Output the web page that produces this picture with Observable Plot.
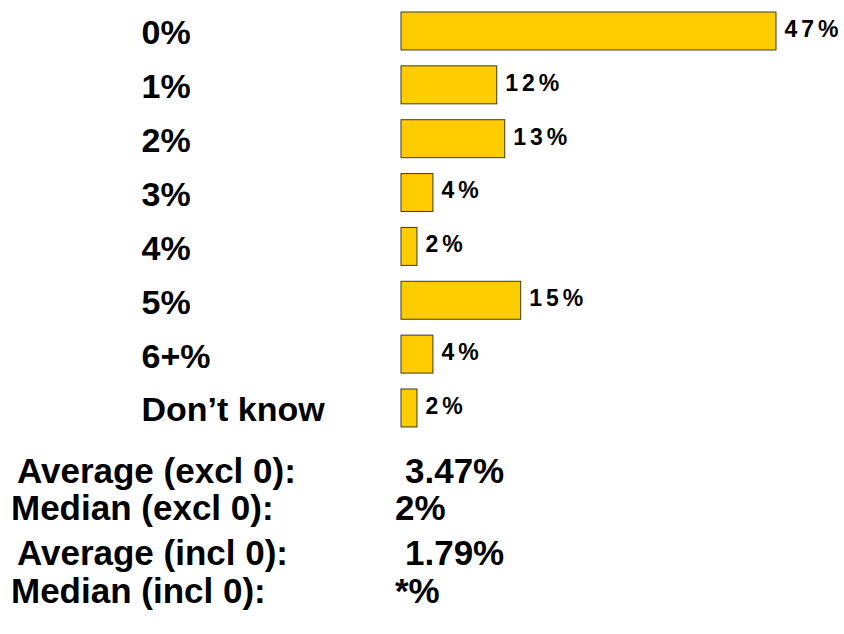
<!DOCTYPE html>
<html>
<head>
<meta charset="utf-8">
<script src="https://cdn.jsdelivr.net/npm/d3@7"></script>
<script src="https://cdn.jsdelivr.net/npm/@observablehq/plot@0.6"></script>
<style>
  html, body { margin: 0; padding: 0; background: #fff; }
  #wrap { position: relative; width: 844px; height: 634px; font-family: "Liberation Sans", Arial, sans-serif; }
  #chart { position: absolute; left: 0; top: 0; }
  #chart g[aria-label="text"] { font-size: 23px; font-weight: bold; }
  #chart g[aria-label="text"] text { letter-spacing: 4px; }
  #chart g[aria-label="y-axis tick label"] { font-size: 34px; font-weight: bold; }
  .stat { position: absolute; font-size: 35px; font-weight: bold; line-height: 35px; white-space: nowrap; color: #000; }
</style>
</head>
<body>
<div id="wrap"><div id="chart"></div></div>
<script>
const categories = ["0%", "1%", "2%", "3%", "4%", "5%", "6+%", "Don’t know"];
const values = [47, 12, 13, 4, 2, 15, 4, 2];
const statLabels = ["Average (excl 0):", "Median (excl 0):", "Average (incl 0):", "Median (incl 0):"];
const statValues = ["3.47%", "2%", "1.79%", "*%"];

const data = categories.map((c, i) => ({cat: c, value: values[i]}));

const plot = Plot.plot({
  width: 844,
  height: 440,
  marginLeft: 401,
  marginRight: 68,
  marginTop: 0,
  marginBottom: 0,
  style: {fontFamily: "'Liberation Sans', Arial, sans-serif", background: "transparent"},
  x: {domain: [0, 47], axis: null},
  y: {domain: categories, range: [4.06, 434.9], paddingInner: 0.295, paddingOuter: 0.1475, round: false, axis: null},
  marks: [
    Plot.barX(data, {x: "value", y: "cat", fill: "#FFCC00", stroke: "#3a3a2a", strokeWidth: 1}),
    Plot.text(data, {x: "value", y: "cat", text: d => d.value + "%", dx: 8, dy: -2, textAnchor: "start", fontSize: 23, fontWeight: "bold", fill: "#000"}),
    Plot.axisY({anchor: "left", tickSize: 0, tickPadding: 0, textAnchor: "start", dx: -260, dy: 2, fontSize: 34, fontWeight: "bold", fill: "#000", label: null})
  ]
});
document.getElementById("chart").appendChild(plot);

// stats rows below the chart
const wrap = document.getElementById("wrap");
const tops = [453, 490, 535, 573];
const labelLeft = [17, 11, 17, 11];
const valueLeft = [405, 395, 405, 395];
statLabels.forEach((s, i) => {
  const a = document.createElement("div");
  a.className = "stat";
  a.style.left = labelLeft[i] + "px";
  a.style.top = tops[i] + "px";
  a.textContent = s;
  wrap.appendChild(a);
  const b = document.createElement("div");
  b.className = "stat";
  b.style.left = valueLeft[i] + "px";
  b.style.top = tops[i] + "px";
  b.textContent = statValues[i];
  wrap.appendChild(b);
});
</script>
</body>
</html>
